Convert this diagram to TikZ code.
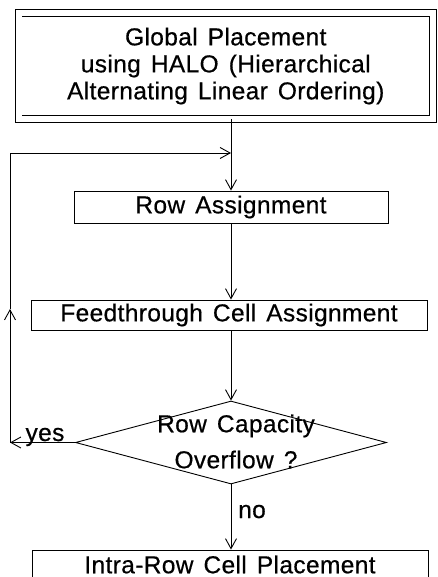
\documentclass[tikz,border=0pt]{standalone}
\usepackage{fontspec}
\setmainfont{Liberation Sans}[LetterSpace=1.5, WordSpace=1.4, FakeBold=0.5]
\usetikzlibrary{arrows.meta,shapes.geometric}

\begin{document}
\begin{tikzpicture}[x=1pt,y=-1pt,
  every node/.style={font=\fontsize{24.5}{27}\selectfont},
  flow/.style={-{Straight Barb[length=10pt,width=11pt]}, line width=0.9pt},
  procbox/.style={draw, rectangle, line width=0.9pt, inner sep=0pt},
  decision/.style={draw, diamond, line width=0.9pt, inner sep=0pt},
  edgelabel/.style={inner sep=0pt}
]
\clip (0,0) rectangle (437,577);

% process steps
\node[procbox, double, double distance=6pt, minimum width=414.5pt,
      minimum height=106pt, align=center] (global) at (225.75,66)
  {Global Placement\\using HALO (Hierarchical\\Alternating Linear Ordering)};
\node[procbox, minimum width=314pt, minimum height=32pt] (rowasg) at (231,207)
  {Row Assignment};
\node[procbox, minimum width=396pt, minimum height=30pt] (feed) at (229,315)
  {Feedthrough Cell Assignment};
\node[decision, minimum width=311pt, minimum height=83pt] (overflow) at (231,442.5) {};
\node[align=center, inner sep=0pt, font=\fontsize{24.5}{36}\selectfont]
  (overflowtext) at (236,441.5) {Row Capacity\\Overflow ?};
\node[procbox, minimum width=396pt, minimum height=29pt] (intrarow) at (230,564.5)
  {Intra-Row Cell Placement};

% feedback loop rail
\coordinate (leftrail) at (10,0);
\coordinate (merge) at (rowasg.north |- 0,153);
\coordinate (loopbot) at (overflow.west -| leftrail);
\coordinate (looptop) at (merge -| leftrail);
\coordinate (loopmid) at (10,309);

% main flow
\draw[flow] (rowasg.north |- global.south) -- (rowasg.north);
\draw[flow] (rowasg.south) -- (rowasg.south |- feed.north);
\draw[flow] (overflow.north |- feed.south) -- (overflow.north);
\draw[flow] (overflow.south) -- (overflow.south |- intrarow.north);

% loop back on overflow
\draw[flow] (overflow.west) -- (loopbot);
\draw[flow] (loopbot) -- (loopmid);
\draw[flow] (loopmid) -- (looptop) -- (merge);

% branch labels
\node[edgelabel, anchor=base] (yes) at (45,441) {yes};
\node[edgelabel, anchor=base west] (no) at (238,518) {no};
\end{tikzpicture}
\end{document}
